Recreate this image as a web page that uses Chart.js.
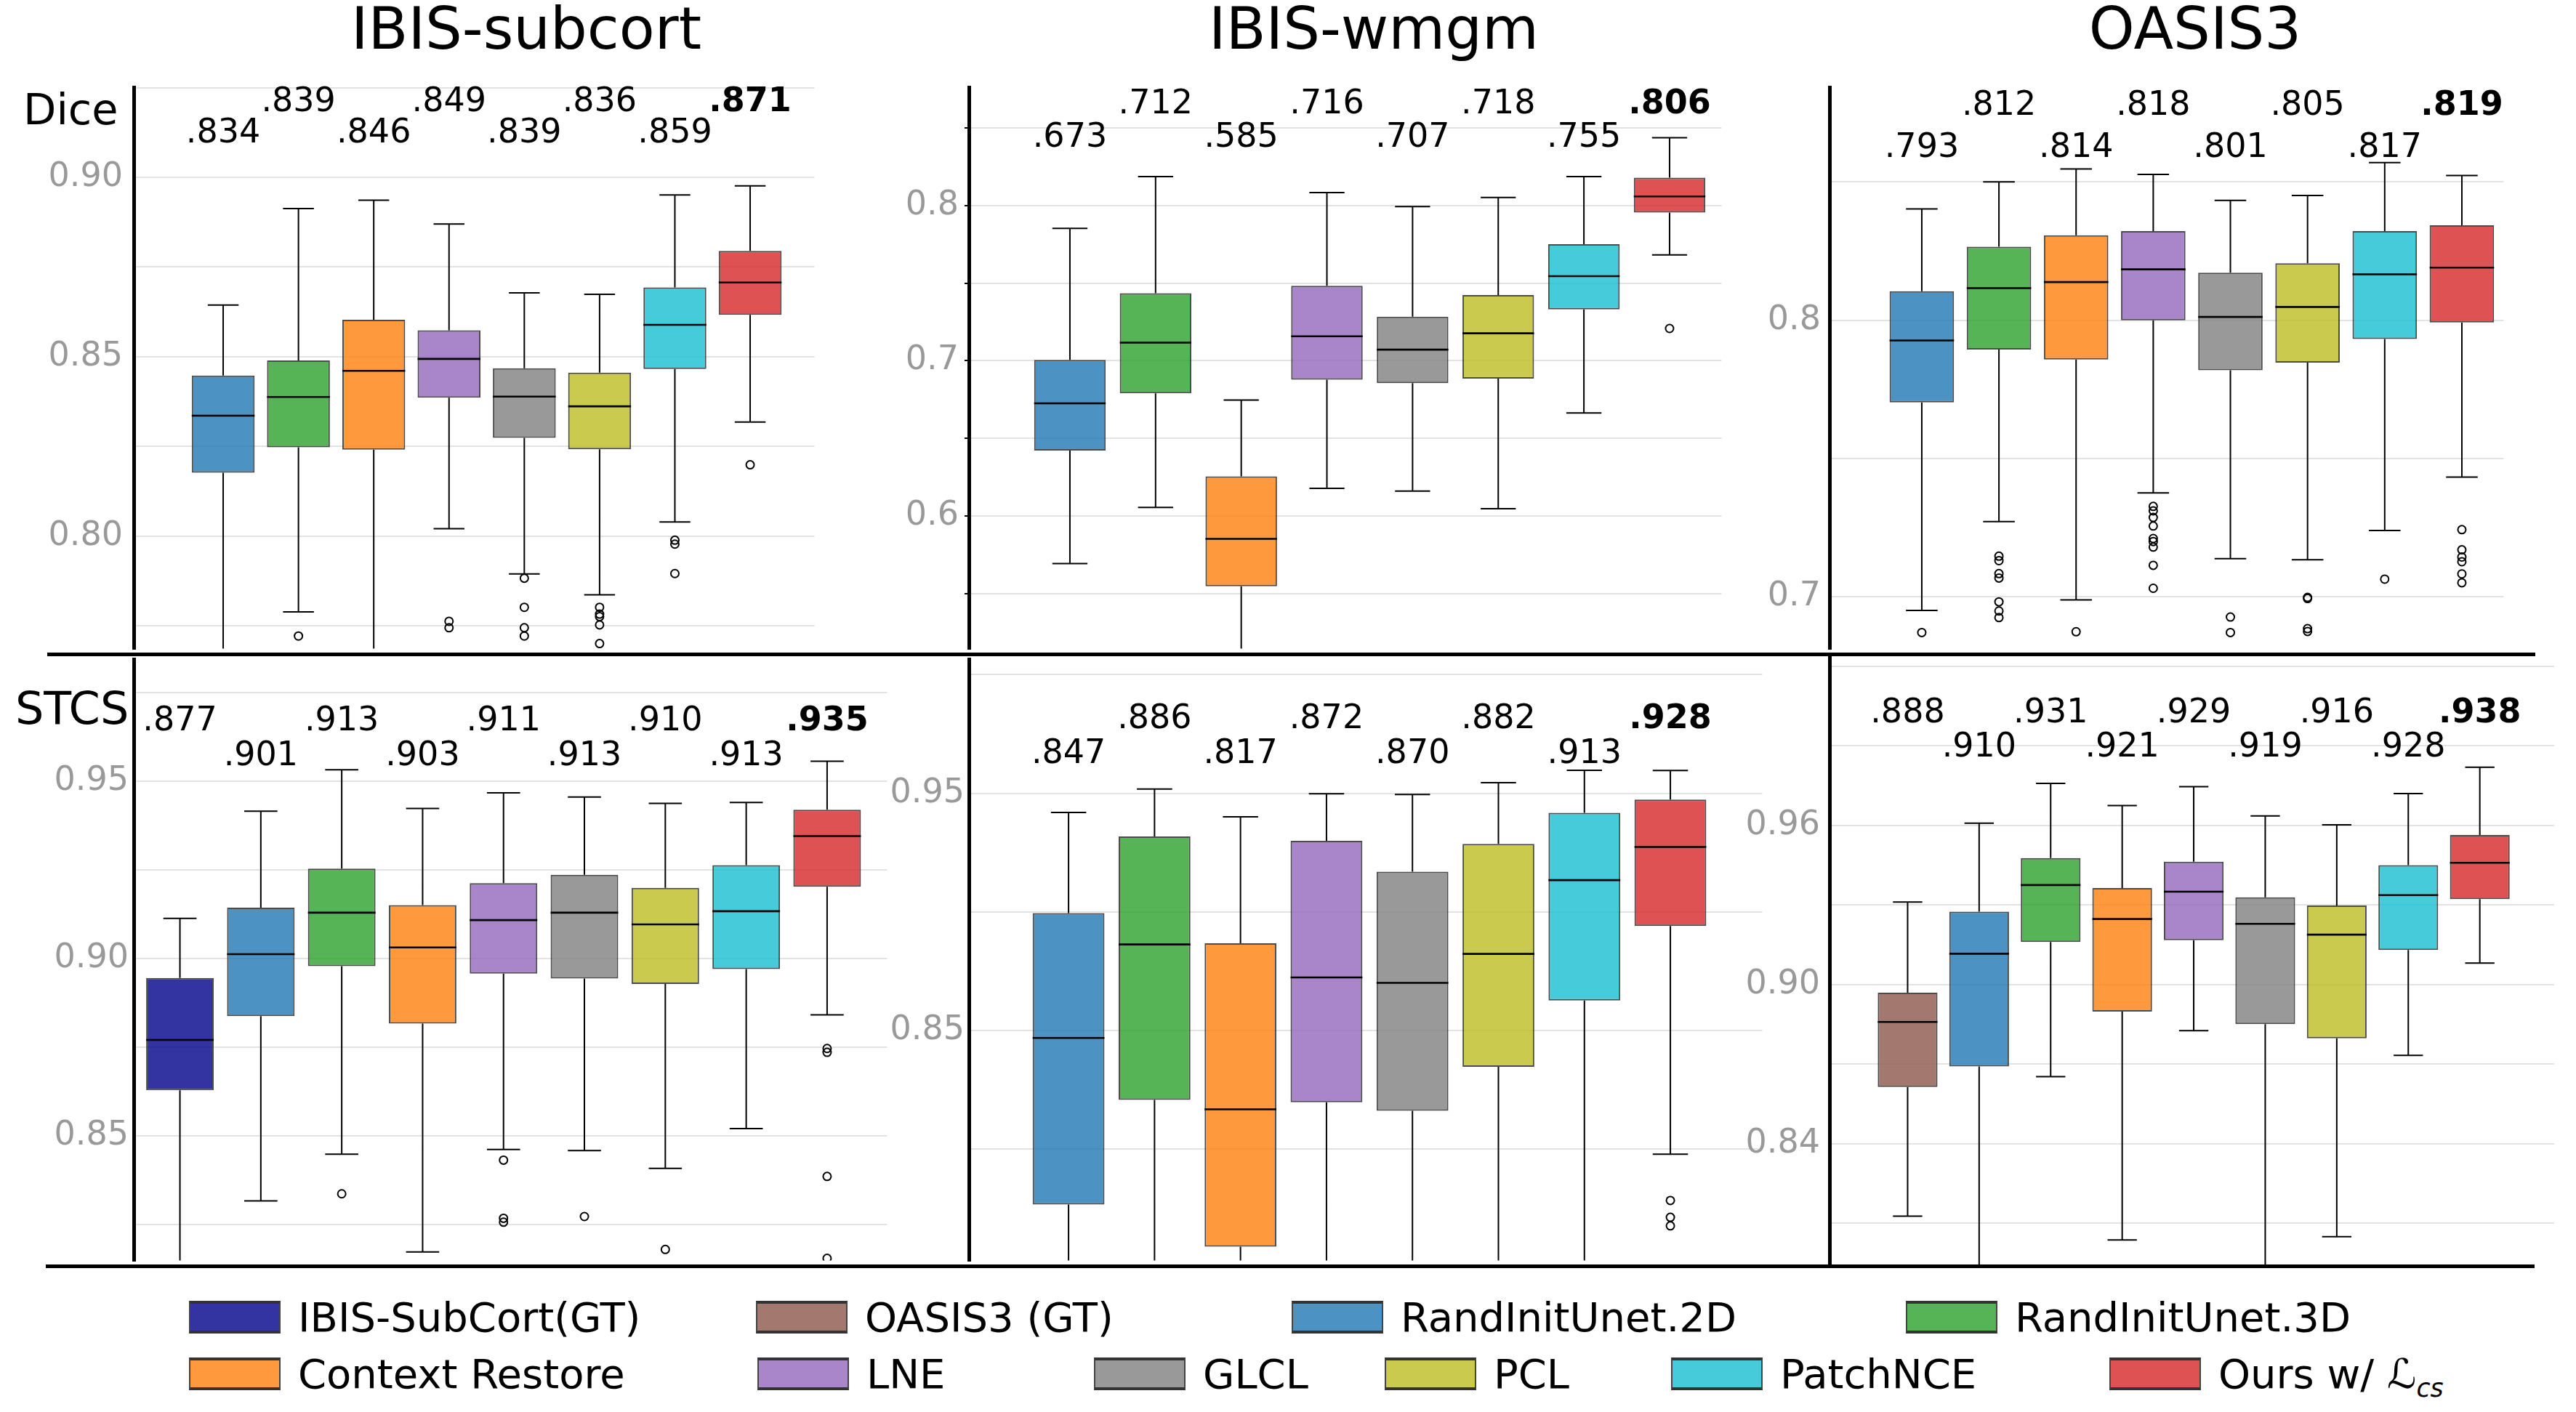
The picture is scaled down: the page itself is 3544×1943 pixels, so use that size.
<!DOCTYPE html>
<html>
<head>
<meta charset="utf-8">
<script src="https://cdn.jsdelivr.net/npm/chart.js@4.4.0/dist/chart.umd.min.js"></script>
<style>
  html, body { margin:0; padding:0; background:#fff; }
  body { position:relative; width:3544px; height:1943px; overflow:hidden; font-family:"DejaVu Sans", sans-serif; color:#000; }
  .abs { position:absolute; white-space:nowrap; line-height:1; }
  .title { font-size:80px; transform:translateX(-50%); }
  .hline { position:absolute; background:#000; z-index:5; }
  .sw { position:absolute; width:126px; height:45px; box-sizing:border-box; border-top:4px solid #333; border-bottom:4px solid #333; border-left:2px solid #444; border-right:2px solid #444; }
  .lg { position:absolute; font-size:56px; line-height:1; white-space:nowrap; }
</style>
</head>
<body>
<div class="abs title" style="left:724px;top:0px;">IBIS-subcort</div>
<div class="abs title" style="left:1890px;top:0px;">IBIS-wmgm</div>
<div class="abs title" style="left:3020px;top:0px;">OASIS3</div>
<div class="abs" style="left:32px;top:121px;font-size:59px;">Dice</div>
<div class="abs" style="left:21px;top:944px;font-size:62px;">STCS</div>
<div class="hline" style="left:65px;top:898px;width:3423px;height:5px;"></div>
<div class="hline" style="left:63px;top:1740px;width:3424px;height:5px;"></div>
<script>
// ---------------- methods ----------------
const methodNames = ['IBIS-SubCort(GT)', 'OASIS3 (GT)', 'RandInitUnet.2D', 'RandInitUnet.3D',
  'Context Restore', 'LNE', 'GLCL', 'PCL', 'PatchNCE', 'Ours w/ ℒcs'];
const methodColors = ['0,0,139', '140,86,75', '31,119,180', '44,160,44', '255,127,14',
  '148,103,189', '127,127,127', '188,189,34', '23,190,207', '214,39,40'];

// ---------------- Dice / IBIS-subcort ----------------
const subDiceMethods = [2, 3, 4, 5, 6, 7, 8, 9];
const subDiceHi  = [0.8644, 0.8913, 0.8936, 0.8870, 0.8678, 0.8674, 0.8951, 0.8976];
const subDiceQ3  = [0.8448, 0.8490, 0.8603, 0.8574, 0.8468, 0.8456, 0.8693, 0.8795];
const subDiceMed = [0.8336, 0.8388, 0.8461, 0.8494, 0.8389, 0.8362, 0.8589, 0.8707];
const subDiceQ1  = [0.8177, 0.8248, 0.8241, 0.8386, 0.8274, 0.8242, 0.8466, 0.8617];
const subDiceLo  = [0.7600, 0.7789, 0.7600, 0.8021, 0.7895, 0.7837, 0.8040, 0.8318];
const subDiceOut = [[], [0.7722], [], [0.7763, 0.7745], [0.7883, 0.7802, 0.7745, 0.7722],
  [0.7802, 0.7783, 0.7776, 0.7753, 0.7701], [0.7989, 0.7978, 0.7896], [0.8199]];
const subDiceMeans = ['.834', '.839', '.846', '.849', '.839', '.836', '.859', '.871'];
const subDiceTickLabels = ['0.80', '0.85', '0.90'];

// ---------------- Dice / IBIS-wmgm ----------------
const wmDiceMethods = [2, 3, 4, 5, 6, 7, 8, 9];
const wmDiceHi  = [0.7853, 0.8187, 0.6747, 0.8083, 0.7993, 0.8052, 0.8187, 0.8437];
const wmDiceQ3  = [0.7006, 0.7435, 0.6256, 0.7483, 0.7284, 0.7423, 0.7751, 0.8180];
const wmDiceMed = [0.6726, 0.7117, 0.5853, 0.7158, 0.7072, 0.7177, 0.7545, 0.8059];
const wmDiceQ1  = [0.6422, 0.6790, 0.5547, 0.6878, 0.6856, 0.6885, 0.7331, 0.7955];
const wmDiceLo  = [0.5694, 0.6055, 0.4900, 0.6178, 0.6161, 0.6047, 0.6664, 0.7682];
const wmDiceOut = [[], [], [], [], [], [], [], [0.7208]];
const wmDiceMeans = ['.673', '.712', '.585', '.716', '.707', '.718', '.755', '.806'];
const wmDiceTickLabels = ['0.6', '0.7', '0.8'];

// ---------------- Dice / OASIS3 ----------------
const oaDiceMethods = [2, 3, 4, 5, 6, 7, 8, 9];
const oaDiceHi  = [0.8402, 0.8500, 0.8547, 0.8527, 0.8433, 0.8451, 0.8570, 0.8523];
const oaDiceQ3  = [0.8105, 0.8266, 0.8307, 0.8322, 0.8172, 0.8206, 0.8322, 0.8343];
const oaDiceMed = [0.7927, 0.8116, 0.8138, 0.8184, 0.8012, 0.8048, 0.8166, 0.8190];
const oaDiceQ1  = [0.7703, 0.7894, 0.7858, 0.8000, 0.7819, 0.7847, 0.7932, 0.7992];
const oaDiceLo  = [0.6951, 0.7272, 0.6989, 0.7376, 0.7138, 0.7134, 0.7240, 0.7433];
const oaDiceOut = [[0.6871], [0.7147, 0.7131, 0.7084, 0.7068, 0.6982, 0.6949, 0.6925], [0.6874],
  [0.7327, 0.7311, 0.7287, 0.7256, 0.7211, 0.7200, 0.7180, 0.7114, 0.7031], [0.6927, 0.6871],
  [0.6998, 0.6994, 0.6885, 0.6875], [0.7064], [0.7243, 0.7170, 0.7144, 0.7127, 0.7083, 0.7051]];
const oaDiceMeans = ['.793', '.812', '.814', '.818', '.801', '.805', '.817', '.819'];
const oaDiceTickLabels = ['0.7', '0.8'];

// ---------------- STCS / IBIS-subcort ----------------
const subStcsMethods = [0, 2, 3, 4, 5, 6, 7, 8, 9];
const subStcsHi  = [0.9114, 0.9416, 0.9533, 0.9424, 0.9468, 0.9456, 0.9438, 0.9441, 0.9557];
const subStcsQ3  = [0.8946, 0.9144, 0.9254, 0.9151, 0.9213, 0.9237, 0.9200, 0.9264, 0.9420];
const subStcsMed = [0.8771, 0.9013, 0.9130, 0.9032, 0.9109, 0.9130, 0.9097, 0.9134, 0.9346];
const subStcsQ1  = [0.8629, 0.8838, 0.8979, 0.8817, 0.8958, 0.8944, 0.8929, 0.8971, 0.9203];
const subStcsLo  = [0.8120, 0.8317, 0.8449, 0.8173, 0.8462, 0.8459, 0.8409, 0.8521, 0.8842];
const subStcsOut = [[], [], [0.8337], [], [0.8432, 0.8268, 0.8257], [0.8273], [0.8180], [],
  [0.8747, 0.8736, 0.8386, 0.8155]];
const subStcsMeans = ['.877', '.901', '.913', '.903', '.911', '.913', '.910', '.913', '.935'];
const subStcsTickLabels = ['0.85', '0.90', '0.95'];

// ---------------- STCS / IBIS-wmgm ----------------
const wmStcsMethods = [2, 3, 4, 5, 6, 7, 8, 9];
const wmStcsHi  = [0.9419, 0.9518, 0.9401, 0.9498, 0.9495, 0.9545, 0.9597, 0.9596];
const wmStcsQ3  = [0.8995, 0.9318, 0.8868, 0.9300, 0.9170, 0.9287, 0.9418, 0.9474];
const wmStcsMed = [0.8469, 0.8863, 0.8168, 0.8724, 0.8701, 0.8823, 0.9134, 0.9274];
const wmStcsQ1  = [0.7767, 0.8208, 0.7589, 0.8198, 0.8162, 0.8347, 0.8627, 0.8941];
const wmStcsLo  = [0.7000, 0.7300, 0.7000, 0.7300, 0.7300, 0.7350, 0.7400, 0.7979];
const wmStcsOut = [[], [], [], [], [], [], [], [0.7784, 0.7713, 0.7677]];
const wmStcsMeans = ['.847', '.886', '.817', '.872', '.870', '.882', '.913', '.928'];
const wmStcsTickLabels = ['0.85', '0.95'];

// ---------------- STCS / OASIS3 ----------------
const oaStcsMethods = [1, 2, 3, 4, 5, 6, 7, 8, 9];
const oaStcsHi  = [0.9311, 0.9608, 0.9758, 0.9675, 0.9746, 0.9636, 0.9602, 0.9720, 0.9819];
const oaStcsQ3  = [0.8969, 0.9275, 0.9477, 0.9364, 0.9463, 0.9329, 0.9298, 0.9450, 0.9564];
const oaStcsMed = [0.8859, 0.9116, 0.9375, 0.9247, 0.9350, 0.9229, 0.9188, 0.9337, 0.9459];
const oaStcsQ1  = [0.8614, 0.8691, 0.9160, 0.8898, 0.9167, 0.8851, 0.8797, 0.9130, 0.9322];
const oaStcsLo  = [0.8127, 0.7800, 0.8653, 0.8037, 0.8826, 0.7800, 0.8049, 0.8733, 0.9081];
const oaStcsOut = [[], [], [], [], [], [], [], [], []];
const oaStcsMeans = ['.888', '.910', '.931', '.921', '.929', '.919', '.916', '.928', '.938'];
const oaStcsTickLabels = ['0.84', '0.90', '0.96'];

// ---------------- panels (built from the arrays above) ----------------
const panels = [
  {methods: subDiceMethods, hi: subDiceHi, q3: subDiceQ3, med: subDiceMed, q1: subDiceQ1, lo: subDiceLo, out: subDiceOut, means: subDiceMeans, tickLabels: subDiceTickLabels},
  {methods: wmDiceMethods, hi: wmDiceHi, q3: wmDiceQ3, med: wmDiceMed, q1: wmDiceQ1, lo: wmDiceLo, out: wmDiceOut, means: wmDiceMeans, tickLabels: wmDiceTickLabels},
  {methods: oaDiceMethods, hi: oaDiceHi, q3: oaDiceQ3, med: oaDiceMed, q1: oaDiceQ1, lo: oaDiceLo, out: oaDiceOut, means: oaDiceMeans, tickLabels: oaDiceTickLabels},
  {methods: subStcsMethods, hi: subStcsHi, q3: subStcsQ3, med: subStcsMed, q1: subStcsQ1, lo: subStcsLo, out: subStcsOut, means: subStcsMeans, tickLabels: subStcsTickLabels},
  {methods: wmStcsMethods, hi: wmStcsHi, q3: wmStcsQ3, med: wmStcsMed, q1: wmStcsQ1, lo: wmStcsLo, out: wmStcsOut, means: wmStcsMeans, tickLabels: wmStcsTickLabels},
  {methods: oaStcsMethods, hi: oaStcsHi, q3: oaStcsQ3, med: oaStcsMed, q1: oaStcsQ1, lo: oaStcsLo, out: oaStcsOut, means: oaStcsMeans, tickLabels: oaStcsTickLabels},
];

// layout / scale ranges
const panelLayout = [
  {left:184,  right:1128, top:113, bottom:900,  xMin:-1.188, xMax:7.854, yMin:0.7687, yMax:0.925,  step:0.025, pad:15, ticks:false, hiBase:32,  loBase:75,  highOdd:true},
  {left:1333, right:2376, top:113, bottom:900,  xMin:-1.179, xMax:7.607, yMin:0.5146, yMax:0.876,  step:0.05,  pad:8,  ticks:true,  hiBase:35,  loBase:81,  highOdd:true},
  {left:2517, right:3452, top:113, bottom:900,  xMin:-1.196, xMax:7.542, yMin:0.6813, yMax:0.8841, step:0.05,  pad:12, ticks:false, hiBase:37,  loBase:95,  highOdd:true},
  {left:184,  right:1228, top:900, bottom:1742, xMin:-0.571, xMax:8.742, yMin:0.8149, yMax:0.9844, step:0.025, pad:7,  ticks:false, hiBase:97,  loBase:145, highOdd:false},
  {left:1333, right:2432, top:900, bottom:1742, xMin:-1.159, xMax:8.069, yMin:0.7531, yMax:1.0064, step:0.05,  pad:6,  ticks:false, hiBase:94,  loBase:142, highOdd:true},
  {left:2517, right:3514, top:900, bottom:1742, xMin:-1.092, xMax:9.04,  yMin:0.7939, yMax:1.0246, step:0.03,  pad:13, ticks:false, hiBase:94,  loBase:141, highOdd:false},
];

const AXW = 150;      // y-axis box width
const BOXW = 0.835;   // box width in category units
const CAP = 0.205;    // whisker cap half-width
const FONT = '"DejaVu Sans", sans-serif';
Chart.defaults.font.family = FONT;

const meanLabelPlugin = {
  id: 'meanLabels',
  afterDatasetsDraw(chart, args, opts) {
    const {ctx, chartArea} = chart;
    const xs = chart.scales.x;
    ctx.save();
    ctx.fillStyle = '#000';
    ctx.textAlign = 'center';
    ctx.textBaseline = 'alphabetic';
    opts.labels.forEach((t, i) => {
      const bold = i === opts.labels.length - 1;
      ctx.font = (bold ? 'bold ' : '') + '46px ' + FONT;
      const high = opts.highOdd ? (i % 2 === 1) : (i % 2 === 0);
      const y = chartArea.top + (high ? opts.hiBase : opts.loBase);
      ctx.fillText(t, xs.getPixelForValue(i), y);
    });
    ctx.restore();
  }
};

function gridValues(min, max, step) {
  const out = [];
  for (let k = Math.ceil(min / step - 1e-9); k * step <= max + 1e-9; k++) out.push(+(k * step).toFixed(4));
  return out;
}

panels.forEach((p, k) => {
  const L = panelLayout[k];
  const n = p.q1.length;
  const cv = document.createElement('canvas');
  const w = L.right - L.left + AXW, h = L.bottom - L.top;
  cv.width = w; cv.height = h;
  cv.style.cssText = `position:absolute;left:${L.left - AXW}px;top:${L.top}px;width:${w}px;height:${h}px;`;
  document.body.appendChild(cv);

  const fills = p.methods.map(m => `rgba(${methodColors[m]},0.8)`);
  const boxes = p.q1.map((v, i) => ({x: i, y: [v, p.q3[i]]}));
  const whisk = [], caps = [], meds = [], outs = [];
  for (let i = 0; i < n; i++) {
    whisk.push({x: i, y: p.hi[i]}, {x: i, y: p.q3[i]}, {x: i, y: null},
               {x: i, y: p.q1[i]}, {x: i, y: p.lo[i]}, {x: i, y: null});
    caps.push({x: i - CAP, y: p.hi[i]}, {x: i + CAP, y: p.hi[i]}, {x: i + CAP, y: null},
              {x: i + CAP, y: null}, {x: i - CAP, y: p.lo[i]}, {x: i + CAP, y: p.lo[i]}, {x: i + CAP, y: null});
    meds.push({x: i - BOXW / 2, y: p.med[i]}, {x: i + BOXW / 2, y: p.med[i]}, {x: i + BOXW / 2, y: null});
    p.out[i].forEach(v => outs.push({x: i, y: v}));
  }
  const lineBase = {type: 'line', borderColor: '#000', pointRadius: 0, spanGaps: false, fill: false, tension: 0};

  new Chart(cv, {
    type: 'bar',
    data: {
      datasets: [
        {type: 'bar', data: boxes, backgroundColor: fills, borderColor: 'rgba(45,45,45,0.85)', borderWidth: 2,
         borderSkipped: false, barPercentage: BOXW, categoryPercentage: 1.0, order: 2},
        Object.assign({data: whisk, borderWidth: 2, order: 3}, lineBase),
        Object.assign({data: caps, borderWidth: 2, order: 3}, lineBase),
        Object.assign({data: meds, borderWidth: 2.6, order: 0}, lineBase),
        {type: 'scatter', data: outs, pointRadius: 5.5, pointBorderWidth: 2, borderColor: '#000',
         backgroundColor: 'rgba(255,255,255,0)', pointBackgroundColor: 'rgba(255,255,255,0)', pointBorderColor: '#000', showLine: false, order: 1}
      ]
    },
    options: {
      responsive: false,
      maintainAspectRatio: false,
      animation: false,
      devicePixelRatio: 1,
      events: [],
      layout: {padding: 0},
      plugins: {
        legend: {display: false},
        tooltip: {enabled: false},
        meanLabels: {labels: p.means, highOdd: L.highOdd, hiBase: L.hiBase, loBase: L.loBase}
      },
      scales: {
        x: {
          type: 'linear', display: false, min: L.xMin, max: L.xMax, offset: false,
          afterBuildTicks(s) { const t = []; for (let i = Math.ceil(L.xMin); i <= Math.floor(L.xMax); i++) t.push({value: i}); s.ticks = t; }
        },
        y: {
          type: 'linear', position: 'left', min: L.yMin, max: L.yMax,
          afterBuildTicks(s) { s.ticks = gridValues(L.yMin, L.yMax, L.step).map(v => ({value: v})); },
          afterFit(s) { s.width = AXW; s.paddingTop = 0; s.paddingBottom = 0; },
          border: {display: true, color: '#000', width: 5},
          grid: {color: '#e3e3e3', lineWidth: 2, drawTicks: L.ticks, tickLength: 6, tickColor: '#000', tickWidth: 2},
          ticks: {
            autoSkip: false, padding: L.pad, color: '#999999', font: {family: FONT, size: 46},
            callback(v) { const lab = p.tickLabels.find(s => Math.abs(parseFloat(s) - v) < 1e-6); return lab || ''; }
          }
        }
      }
    },
    plugins: [meanLabelPlugin]
  });
});

// ---------------- legend ----------------
const legendPos = [[260, 0], [1040, 0], [1777, 0], [2622, 0], [260, 1], [1042, 1], [1505, 1], [1905, 1], [2299, 1], [2902, 1]];
const legendRowSwTop = [1790, 1868];
const legendRowTxtTop = [1785, 1863];
methodNames.forEach((name, i) => {
  const [x, r] = legendPos[i];
  const sw = document.createElement('div');
  sw.className = 'sw';
  sw.style.left = x + 'px';
  sw.style.top = legendRowSwTop[r] + 'px';
  sw.style.background = `rgba(${methodColors[i]},0.8)`;
  document.body.appendChild(sw);
  const tx = document.createElement('div');
  tx.className = 'lg';
  tx.style.left = (x + 150) + 'px';
  tx.style.top = legendRowTxtTop[r] + 'px';
  if (name.indexOf('ℒ') >= 0) {
    tx.innerHTML = 'Ours w/ <span style="font-style:italic">ℒ</span><sub style="font-size:0.62em;font-style:italic;vertical-align:-0.35em">cs</sub>';
  } else {
    tx.textContent = name;
  }
  document.body.appendChild(tx);
});
</script>
</body>
</html>
